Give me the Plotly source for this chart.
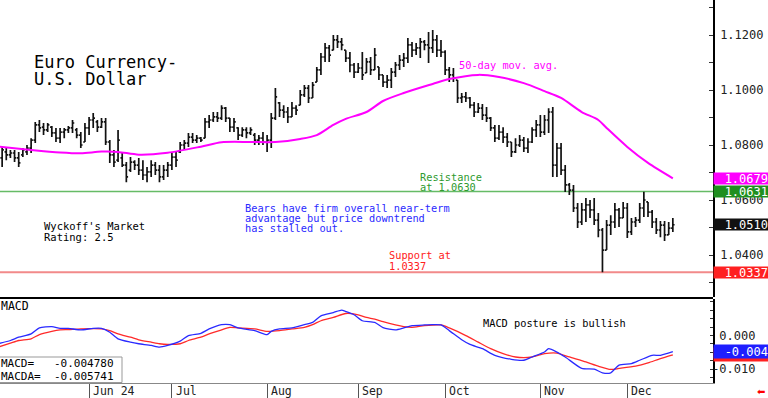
import plotly.graph_objects as go
import pandas as pd

# ---------------- data ----------------
dates = pd.bdate_range("2024-05-02", "2024-12-17")   # 164 trading days
x_idx = list(range(len(dates)))

opens = [1.0782, 1.0753, 1.0775, 1.0764, 1.0771, 1.0753, 1.0764, 1.0775, 1.0789, 1.0818,
         1.0873, 1.0865, 1.0855, 1.0865, 1.0844, 1.0825, 1.0847, 1.0855, 1.0862, 1.0855,
         1.0836, 1.0811, 1.0862, 1.0891, 1.0884, 1.0865, 1.0884, 1.0811, 1.0764, 1.0745,
         1.0753, 1.0727, 1.0709, 1.0738, 1.0727, 1.0709, 1.0691, 1.0702, 1.0727, 1.0709,
         1.0684, 1.0709, 1.0727, 1.0756, 1.0775, 1.0800, 1.0807, 1.0829, 1.0818, 1.0825,
         1.0825, 1.0884, 1.0891, 1.0902, 1.0898, 1.0934, 1.0898, 1.0865, 1.0862, 1.0836,
         1.0855, 1.0844, 1.0836, 1.0818, 1.0825, 1.0811, 1.0818, 1.0898, 1.0953, 1.0927,
         1.0920, 1.0902, 1.0934, 1.0945, 1.0982, 1.1007, 1.0971, 1.1029, 1.1073, 1.1120,
         1.1153, 1.1145, 1.1182, 1.1175, 1.1145, 1.1116, 1.1091, 1.1065, 1.1080, 1.1062,
         1.1102, 1.1073, 1.1084, 1.1055, 1.1029, 1.1036, 1.1065, 1.1091, 1.1109, 1.1116,
         1.1164, 1.1145, 1.1153, 1.1175, 1.1164, 1.1153, 1.1182, 1.1145, 1.1138, 1.1073,
         1.1055, 1.1036, 1.0971, 1.0975, 1.0971, 1.0945, 1.0920, 1.0934, 1.0909, 1.0898,
         1.0862, 1.0825, 1.0847, 1.0829, 1.0811, 1.0775, 1.0800, 1.0818, 1.0789, 1.0811,
         1.0855, 1.0873, 1.0847, 1.0891, 1.0920, 1.0727, 1.0789, 1.0709, 1.0655, 1.0636,
         1.0571, 1.0520, 1.0564, 1.0582, 1.0564, 1.0527, 1.0491, 1.0418, 1.0509, 1.0520,
         1.0564, 1.0535, 1.0571, 1.0484, 1.0520, 1.0527, 1.0571, 1.0593, 1.0556, 1.0520,
         1.0491, 1.0509, 1.0473, 1.0498]
highs = [1.0800, 1.0793, 1.0789, 1.0782, 1.0782, 1.0775, 1.0789, 1.0800, 1.0825, 1.0884,
         1.0891, 1.0880, 1.0880, 1.0869, 1.0862, 1.0862, 1.0862, 1.0869, 1.0891, 1.0862,
         1.0847, 1.0880, 1.0902, 1.0916, 1.0891, 1.0898, 1.0898, 1.0818, 1.0782, 1.0855,
         1.0771, 1.0738, 1.0756, 1.0745, 1.0753, 1.0745, 1.0720, 1.0745, 1.0738, 1.0727,
         1.0727, 1.0738, 1.0771, 1.0775, 1.0811, 1.0818, 1.0844, 1.0844, 1.0836, 1.0829,
         1.0898, 1.0909, 1.0920, 1.0920, 1.0945, 1.0938, 1.0898, 1.0898, 1.0865, 1.0865,
         1.0865, 1.0865, 1.0844, 1.0836, 1.0847, 1.0836, 1.0916, 1.1007, 1.0956, 1.0945,
         1.0938, 1.0956, 1.0945, 1.1000, 1.1018, 1.1018, 1.1029, 1.1084, 1.1135, 1.1171,
         1.1164, 1.1200, 1.1200, 1.1189, 1.1145, 1.1138, 1.1098, 1.1098, 1.1138, 1.1116,
         1.1120, 1.1153, 1.1084, 1.1055, 1.1055, 1.1080, 1.1102, 1.1127, 1.1135, 1.1189,
         1.1175, 1.1171, 1.1189, 1.1182, 1.1211, 1.1218, 1.1200, 1.1182, 1.1145, 1.1084,
         1.1080, 1.1036, 1.0989, 1.0993, 1.0975, 1.0956, 1.0953, 1.0949, 1.0938, 1.0902,
         1.0873, 1.0873, 1.0865, 1.0844, 1.0811, 1.0825, 1.0836, 1.0829, 1.0825, 1.0865,
         1.0891, 1.0909, 1.0909, 1.0934, 1.0938, 1.0807, 1.0807, 1.0727, 1.0662, 1.0655,
         1.0589, 1.0589, 1.0607, 1.0600, 1.0607, 1.0553, 1.0498, 1.0527, 1.0545, 1.0589,
         1.0571, 1.0593, 1.0589, 1.0535, 1.0538, 1.0589, 1.0630, 1.0593, 1.0564, 1.0535,
         1.0524, 1.0524, 1.0520, 1.0535]
lows = [1.0727, 1.0720, 1.0745, 1.0753, 1.0738, 1.0720, 1.0756, 1.0764, 1.0771, 1.0807,
        1.0847, 1.0836, 1.0847, 1.0829, 1.0811, 1.0807, 1.0825, 1.0844, 1.0844, 1.0825,
        1.0789, 1.0811, 1.0836, 1.0862, 1.0847, 1.0862, 1.0800, 1.0735, 1.0720, 1.0738,
        1.0720, 1.0665, 1.0702, 1.0709, 1.0691, 1.0673, 1.0665, 1.0684, 1.0691, 1.0665,
        1.0673, 1.0684, 1.0709, 1.0720, 1.0771, 1.0782, 1.0793, 1.0807, 1.0807, 1.0811,
        1.0825, 1.0862, 1.0884, 1.0884, 1.0891, 1.0884, 1.0847, 1.0847, 1.0818, 1.0829,
        1.0825, 1.0836, 1.0800, 1.0800, 1.0800, 1.0775, 1.0789, 1.0891, 1.0902, 1.0898,
        1.0880, 1.0902, 1.0909, 1.0945, 1.0975, 1.0953, 1.0971, 1.1029, 1.1055, 1.1102,
        1.1102, 1.1145, 1.1153, 1.1145, 1.1102, 1.1065, 1.1044, 1.1062, 1.1036, 1.1062,
        1.1055, 1.1073, 1.1036, 1.1011, 1.1007, 1.1007, 1.1047, 1.1073, 1.1084, 1.1098,
        1.1120, 1.1127, 1.1116, 1.1145, 1.1098, 1.1135, 1.1120, 1.1120, 1.1055, 1.1029,
        1.1029, 1.0953, 1.0953, 1.0956, 1.0934, 1.0902, 1.0916, 1.0891, 1.0884, 1.0851,
        1.0811, 1.0818, 1.0807, 1.0793, 1.0756, 1.0771, 1.0793, 1.0775, 1.0771, 1.0807,
        1.0829, 1.0829, 1.0836, 1.0844, 1.0684, 1.0684, 1.0691, 1.0629, 1.0618, 1.0556,
        1.0498, 1.0509, 1.0520, 1.0535, 1.0509, 1.0465, 1.0337, 1.0418, 1.0473, 1.0498,
        1.0502, 1.0535, 1.0462, 1.0473, 1.0502, 1.0516, 1.0538, 1.0538, 1.0498, 1.0476,
        1.0465, 1.0451, 1.0473, 1.0484]
closes = [1.0753, 1.0782, 1.0764, 1.0771, 1.0753, 1.0735, 1.0782, 1.0789, 1.0818, 1.0873,
          1.0862, 1.0855, 1.0873, 1.0844, 1.0825, 1.0847, 1.0855, 1.0862, 1.0880, 1.0836,
          1.0800, 1.0862, 1.0891, 1.0898, 1.0865, 1.0884, 1.0811, 1.0764, 1.0738, 1.0818,
          1.0727, 1.0684, 1.0738, 1.0727, 1.0709, 1.0691, 1.0702, 1.0727, 1.0709, 1.0684,
          1.0709, 1.0727, 1.0756, 1.0745, 1.0800, 1.0807, 1.0829, 1.0818, 1.0825, 1.0818,
          1.0884, 1.0891, 1.0902, 1.0898, 1.0934, 1.0898, 1.0865, 1.0884, 1.0836, 1.0855,
          1.0844, 1.0855, 1.0818, 1.0825, 1.0811, 1.0818, 1.0898, 1.0975, 1.0927, 1.0920,
          1.0902, 1.0934, 1.0927, 1.0982, 1.1007, 1.0971, 1.1018, 1.1073, 1.1120, 1.1153,
          1.1127, 1.1182, 1.1175, 1.1164, 1.1116, 1.1091, 1.1065, 1.1080, 1.1055, 1.1102,
          1.1073, 1.1127, 1.1055, 1.1029, 1.1036, 1.1065, 1.1091, 1.1109, 1.1116, 1.1164,
          1.1145, 1.1153, 1.1175, 1.1164, 1.1153, 1.1182, 1.1145, 1.1138, 1.1073, 1.1055,
          1.1044, 1.0971, 1.0975, 1.0971, 1.0945, 1.0920, 1.0934, 1.0909, 1.0898, 1.0862,
          1.0825, 1.0847, 1.0829, 1.0811, 1.0775, 1.0800, 1.0818, 1.0789, 1.0811, 1.0855,
          1.0873, 1.0847, 1.0891, 1.0920, 1.0727, 1.0789, 1.0709, 1.0655, 1.0636, 1.0571,
          1.0520, 1.0564, 1.0582, 1.0564, 1.0527, 1.0491, 1.0418, 1.0509, 1.0520, 1.0564,
          1.0535, 1.0571, 1.0484, 1.0520, 1.0527, 1.0571, 1.0600, 1.0556, 1.0520, 1.0491,
          1.0509, 1.0473, 1.0498, 1.0510]

# 50-day moving average
ma_idx = [0, 8, 15, 20, 25, 29, 34, 41, 49, 54, 61, 67, 73, 77, 81, 84, 89, 93, 98, 105,
          109, 116, 121, 127, 132, 136, 141, 145, 147, 152, 157, 163]
ma_val = [1.0794, 1.0782, 1.0773, 1.0770, 1.0776, 1.0775, 1.0765, 1.0772, 1.0794, 1.0810,
          1.0811, 1.0811, 1.0822, 1.0836, 1.0873, 1.0895, 1.0920, 1.0960, 1.0989, 1.1022,
          1.1040, 1.1055, 1.1047, 1.1025, 1.0996, 1.0971, 1.0920, 1.0891, 1.0862, 1.0793,
          1.0735, 1.0679]

# MACD (blue) and MACD average (red)
macd_idx = [0, 3, 5, 8, 10, 13, 15, 17, 20, 23, 25, 27, 29, 32, 34, 37, 39, 41, 44, 46,
            49, 51, 54, 56, 58, 62, 65, 66, 68, 71, 74, 76, 78, 81, 83, 84, 86, 88, 91, 93,
            96, 98, 100, 103, 105, 107, 109, 112, 114, 117, 120, 124, 127, 129, 132, 133, 135,
            137, 141, 144, 146, 148, 150, 153, 155, 158, 160, 163]
macd_val = [-0.00244, -0.00147, -0.00050, 0.00050, 0.00226, 0.00265, 0.00215, 0.00215, 0.00168,
            0.00215, 0.00215, 0.00097, -0.00097, -0.00197, -0.00244, -0.00294, -0.00344,
            -0.00294, -0.00168, 0.00000, 0.00068, 0.00197, 0.00324, 0.00324, 0.00226, 0.00147,
            0.00029, 0.00126, 0.00197, 0.00226, 0.00324, 0.00391, 0.00588, 0.00685, 0.00756,
            0.00715, 0.00618, 0.00441, 0.00391, 0.00235, 0.00168, 0.00226, 0.00294, 0.00315,
            0.00324, 0.00315, 0.00147, -0.00126, -0.00265, -0.00391, -0.00588, -0.00706,
            -0.00735, -0.00638, -0.00491, -0.00391, -0.00491, -0.00638, -0.00979, -0.01000,
            -0.01109, -0.01109, -0.00882, -0.00832, -0.00735, -0.00588, -0.00588, -0.00478]
sig_idx = [0, 3, 5, 8, 10, 13, 15, 17, 20, 25, 27, 29, 32, 34, 37, 39, 41, 44, 46, 49, 51,
           54, 56, 58, 62, 65, 68, 71, 74, 76, 78, 81, 84, 87, 89, 91, 93, 96, 98, 100, 103,
           107, 109, 113, 116, 119, 122, 125, 129, 132, 135, 138, 142, 145, 148, 150, 154,
           157, 160, 163]
sig_val = [-0.00344, -0.00226, -0.00147, -0.00097, 0.00029, 0.00126, 0.00168, 0.00176, 0.00197,
           0.00197, 0.00147, 0.00050, -0.00050, -0.00126, -0.00197, -0.00244, -0.00265,
           -0.00244, -0.00147, -0.00050, 0.00050, 0.00168, 0.00244, 0.00226, 0.00197, 0.00126,
           0.00147, 0.00197, 0.00244, 0.00324, 0.00441, 0.00538, 0.00656, 0.00618, 0.00538,
           0.00491, 0.00412, 0.00315, 0.00265, 0.00244, 0.00294, 0.00315, 0.00226, 0.00000,
           -0.00197, -0.00391, -0.00538, -0.00638, -0.00638, -0.00538, -0.00521, -0.00638,
           -0.00785, -0.00912, -0.01009, -0.00979, -0.00912, -0.00815, -0.00685, -0.005741]

month_labels = ["Jun 24", "Jul", "Aug", "Sep", "Oct", "Nov", "Dec"]
month_dates = ["2024-06-03", "2024-07-01", "2024-08-01", "2024-09-02",
               "2024-10-01", "2024-11-01", "2024-12-02"]
month_pos = [dates.get_loc(pd.Timestamp(d)) for d in month_dates]

price_ticks = [1.03, 1.04, 1.05, 1.06, 1.07, 1.08, 1.09, 1.10, 1.11, 1.12, 1.13]
price_labels = ["", "1.0400", "", "1.0600", "", "1.0800", "", "1.1000", "", "1.1200", ""]
macd_ticks = [-0.0125, -0.01, -0.0075, -0.005, -0.0025, 0.0, 0.0025, 0.005, 0.0075, 0.01]
macd_labels = ["", "-0.010", "", "", "", "\u20070.000", "", "", "", ""]

resistance = 1.0631
support = 1.0337
ma_last = ma_val[-1]
last_close = closes[-1]
macd_last = -0.004780
macda_last = -0.005741

# ---------------- layout helpers ----------------
W, H = 768, 398
ML, MR, MT, MB = 0, 55, 0, 15
PW, PH = W - ML - MR, H - MT - MB
FONT = "DejaVu Sans Mono"


def px(xp):
    return (xp - ML) / PW


def py(yp):
    return (PH + MT - yp) / PH


fig = go.Figure()
fig.add_trace(go.Ohlc(x=x_idx, open=opens, high=highs, low=lows, close=closes,
                      increasing=dict(line=dict(color="#111111", width=1.7)),
                      decreasing=dict(line=dict(color="#111111", width=1.7)),
                      tickwidth=0.42, xaxis="x", yaxis="y", hoverinfo="skip"))
fig.add_trace(go.Scatter(x=ma_idx, y=ma_val, mode="lines",
                         line=dict(color="#ff00ff", width=2, shape="spline", smoothing=0.8),
                         xaxis="x", yaxis="y", hoverinfo="skip"))
fig.add_trace(go.Scatter(x=sig_idx, y=sig_val, mode="lines",
                         line=dict(color="#ff2a2a", width=1.3, shape="spline", smoothing=0.6),
                         xaxis="x", yaxis="y2", hoverinfo="skip"))
fig.add_trace(go.Scatter(x=macd_idx, y=macd_val, mode="lines",
                         line=dict(color="#2a2aff", width=1.3, shape="spline", smoothing=0.6),
                         xaxis="x", yaxis="y2", hoverinfo="skip"))

main_bottom = (PH - 297) / PH
macd_top = (PH - 299) / PH

shapes = [
    dict(type="line", xref="paper", yref="y", x0=0, x1=1, y0=resistance, y1=resistance,
         line=dict(color="#66bb66", width=1.5), layer="below"),
    dict(type="line", xref="paper", yref="y", x0=0, x1=1, y0=support, y1=support,
         line=dict(color="#f28a8a", width=2), layer="below"),
    dict(type="line", xref="paper", yref="paper", x0=0, x1=1, y0=py(298), y1=py(298),
         line=dict(color="black", width=2)),
    dict(type="rect", xref="paper", yref="paper", x0=px(-1), x1=px(122), y0=py(382.5), y1=py(357),
         line=dict(color="#999999", width=1), fillcolor="white"),
]


def ann(text, xp, yp, color="black", size=10.3, family=FONT):
    return dict(text=text, x=px(xp), y=py(yp), xref="paper", yref="paper",
                xanchor="left", yanchor="middle", showarrow=False,
                font=dict(family=family, size=size, color=color))


def box(text, yval, yref, bg, h=11, fg="white"):
    return dict(text=text, x=1, xref="paper", xanchor="left", y=yval, yref=yref,
                yanchor="middle", showarrow=False, bgcolor=bg, width=54, height=h,
                align="right", borderpad=0, font=dict(family=FONT, size=12, color=fg))


NB = "\u00a0"
annotations = [
    ann("Euro Currency-", 32, 62.5, size=17),
    ann("U.S. Dollar", 32, 79, size=17),
    ann("50-day mov. avg.", 457, 64.5, color="#ff00ff"),
    ann("Resistance", 418, 176.5, color="#2e9a2e"),
    ann("at 1.0630", 418, 186.5, color="#2e9a2e"),
    ann("Bears have firm overall near-term", 243, 207.5, color="#2a2aff"),
    ann("advantage but price downtrend", 243, 217.5, color="#2a2aff"),
    ann("has stalled out.", 243, 227.5, color="#2a2aff"),
    ann("Wyckoff's Market", 42, 226, size=10.5),
    ann("Rating: 2.5", 42, 236.5, size=10.5),
    ann("Support at", 387, 255, color="#ff2020"),
    ann("1.0337", 387, 265.5, color="#ff2020"),
    ann("MACD", -1, 306, size=11.5),
    ann("MACD posture is bullish", 481, 323),
    ann("MACD=" + NB * 3 + "%.6f" % macd_last, -1, 363.5, size=11),
    ann("MACDA=" + NB * 2 + "%.6f" % macda_last, -1, 376, size=11),
    ann("\u2b05", 755, 391, color="#ff0000", size=10, family="DejaVu Sans"),
    box("%.4f" % ma_last, ma_last, "y", "#ff00ff"),
    box("%.4f" % resistance, resistance, "y", "#1f8f1f"),
    box("%.4f" % last_close, last_close, "y", "#111111"),
    box("%.4f" % support, support, "y", "#ff2020"),
    box("-0.005", macda_last, "y2", "#ff2020", h=13, fg="#ff2020"),
    box("-0.004", macd_last, "y2", "#1e1eff", h=13),
]
for lab, pos in zip(month_labels, month_pos):
    annotations.append(dict(text=lab, x=pos, xref="x", y=py(390.5), yref="paper",
                            xanchor="left", yanchor="middle", xshift=2, showarrow=False,
                            font=dict(family=FONT, size=11.5, color="#222222")))

fig.update_layout(
    width=W, height=H, template="none",
    margin=dict(l=ML, r=MR, t=MT, b=MB, autoexpand=False),
    paper_bgcolor="white", plot_bgcolor="white",
    showlegend=False, hovermode=False,
    font=dict(family=FONT, size=12, color="#222222"),
    xaxis=dict(domain=[0, 1], range=[0.483, 172.7], anchor="y2",
               showgrid=False, zeroline=False, showline=True, linecolor="#888888", linewidth=1,
               ticks="outside", ticklen=14, tickcolor="#555555", tickwidth=1,
               tickvals=month_pos, showticklabels=False,
               rangeslider=dict(visible=False), fixedrange=True),
    yaxis=dict(domain=[main_bottom, 1], range=[1.02473, 1.13273], side="right", anchor="x",
               showgrid=False, zeroline=False, showline=True, linecolor="black", linewidth=1.5,
               ticks="inside", ticklen=4, tickcolor="#333333",
               tickvals=price_ticks, ticktext=price_labels, ticklabelstandoff=3,
               tickfont=dict(family=FONT, size=12, color="#222222"), fixedrange=True),
    yaxis2=dict(domain=[0, macd_top], range=[-0.01412, 0.01088], side="right", anchor="x",
                showgrid=False, zeroline=False, showline=True, linecolor="black", linewidth=1.5,
                ticks="inside", ticklen=3, tickcolor="#333333",
                tickvals=macd_ticks, ticktext=macd_labels, ticklabelstandoff=-5,
                tickfont=dict(family=FONT, size=12, color="#222222"), fixedrange=True),
    shapes=shapes,
    annotations=annotations,
)

fig.write_html("out.html", config={"displayModeBar": False},
               post_script="document.body.style.margin='0px';document.body.style.overflow='hidden';")
